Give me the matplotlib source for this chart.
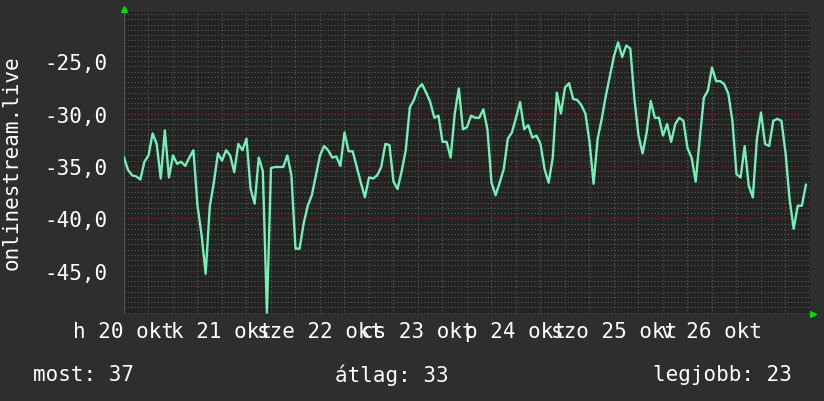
import numpy as np
import matplotlib
import matplotlib.pyplot as plt

matplotlib.use('Agg')

# óránkénti értékek (h0 .. h167)
rank = [
    -34.2, -35.4, -35.9, -36.0, -36.3, -34.6, -34.0, -31.9, -32.9, -36.2,
    -31.6, -36.1, -34.0, -34.8, -34.6, -35.0, -34.2, -33.5, -38.8, -41.6,
    -45.3, -38.9, -36.6, -33.8, -34.5, -33.5, -34.0, -35.6, -32.9, -33.5,
    -32.4, -37.2, -38.6, -34.2, -35.5, -49.0, -35.2, -35.1, -35.1, -35.1,
    -34.0, -35.9, -42.9, -42.9, -40.5, -38.8, -37.8, -35.9, -34.0, -33.1,
    -33.5, -34.2, -34.1, -35.0, -31.8, -33.6, -33.6, -35.1, -36.6, -38.0,
    -36.1, -36.2, -35.9, -35.1, -32.9, -33.0, -36.5, -37.2, -35.5, -33.5,
    -29.4, -28.7, -27.6, -27.2, -28.0, -28.9, -30.4, -30.2, -32.7, -32.7,
    -34.2, -30.0, -27.6, -31.5, -31.3, -30.2, -30.4, -30.4, -29.6, -31.5,
    -36.6, -37.8, -36.6, -35.3, -32.4, -31.8, -30.4, -28.9, -31.5, -31.1,
    -32.3, -32.1, -32.9, -35.3, -36.6, -34.2, -28.0, -30.0, -27.5, -27.1,
    -28.6, -28.7, -29.2, -30.0, -32.7, -36.7, -32.4, -30.5, -28.3, -26.4,
    -24.5, -23.2, -24.6, -23.5, -23.8, -28.6, -32.1, -33.8, -31.8, -28.8,
    -30.4, -30.4, -32.1, -31.0, -32.7, -31.0, -30.4, -30.7, -33.3, -34.2,
    -36.5, -32.4, -28.5, -27.8, -25.6, -26.9, -26.9, -27.2, -28.1, -30.7,
    -35.8, -36.1, -33.1, -36.9, -38.0, -32.4, -29.9, -32.9, -33.1, -30.7,
    -30.5, -30.7, -33.7, -38.2, -41.0, -38.8, -38.8, -36.8,
]
hours = np.arange(len(rank))

day_labels = ['h 20 okt', 'k 21 okt', 'sze 22 okt', 'cs 23 okt',
              'p 24 okt', 'szo 25 okt', 'v 26 okt']
y_ticks = [-45, -40, -35, -30, -25]
legend_items = [('most', 37), ('átlag', 33), ('legjobb', 23)]

bg = '#2e2e2e'
plot_bg = '#232323'
fg = '#ffffff'
plt.rcParams['font.family'] = ['DejaVu Sans Mono']

fig = plt.figure(figsize=(8.24, 4.02), dpi=100, facecolor=bg)
ax = fig.add_axes([124 / 824, 1 - 315 / 402, 686 / 824, 302 / 402])
ax.set_facecolor(plot_bg)
ymin, ymax = -49.14, -20.3
ax.set_xlim(0, 168)
ax.set_ylim(ymin, ymax)

# rács: apró pontozott szürke, fő vonalak pirosas
for y in np.arange(-49.0, -20.4, 0.5):
    if y % 5 == 0:
        continue
    ax.axhline(y, color='#5c5c5c', lw=0.8, ls=(0, (1, 2)), zorder=1)
for x in np.arange(6, 168, 6):
    if (x - 12) % 24 == 0:
        continue
    ax.axvline(x, color='#5c5c5c', lw=0.8, ls=(0, (1, 2)), zorder=1)
for y in y_ticks:
    ax.axhline(y, color='#8a3535', lw=0.8, ls=(0, (1, 2)), zorder=1)
for x in np.arange(12, 168, 24):
    ax.axvline(x, color='#8a3535', lw=0.8, ls=(0, (1, 2)), zorder=1)

ax.plot(hours, rank, color='#72f0b6', lw=1.7, zorder=3)

for s in ax.spines.values():
    s.set_visible(False)
ax.axvline(0, color='#555555', lw=0.8, zorder=2)
ax.axhline(ymin, color='#555555', lw=0.8, zorder=2)

# zöld nyilak
ax.plot([0], [1.01], marker='^', color='#00dd00', markersize=5,
        transform=ax.transAxes, clip_on=False)
ax.plot([1.004], [0], marker='>', color='#00dd00', markersize=5,
        transform=ax.transAxes, clip_on=False)

ax.set_yticks(y_ticks)
ax.set_yticklabels([('%.1f' % v).replace('.', ',') for v in y_ticks])
ax.set_xticks(np.arange(0, 168, 24))
ax.set_xticklabels(day_labels)
ax.tick_params(axis='y', length=0, pad=12, labelsize=15, labelcolor=fg)
ax.tick_params(axis='x', length=0, pad=5, labelsize=15, labelcolor=fg)

fig.text(12 / 824, 1 - 163 / 402, 'onlinestream.live', rotation=90,
         ha='center', va='center', color=fg, fontsize=15)

fig.text(33 / 824, 1 - 375 / 402, '%s: %d' % legend_items[0],
         ha='left', va='center', color=fg, fontsize=15)
fig.text(335 / 824, 1 - 375 / 402, '%s: %d' % legend_items[1],
         ha='left', va='center', color=fg, fontsize=15)
fig.text(792 / 824, 1 - 375 / 402, '%s: %d' % legend_items[2],
         ha='right', va='center', color=fg, fontsize=15)

fig.savefig('out.png', dpi=100, facecolor=bg)
